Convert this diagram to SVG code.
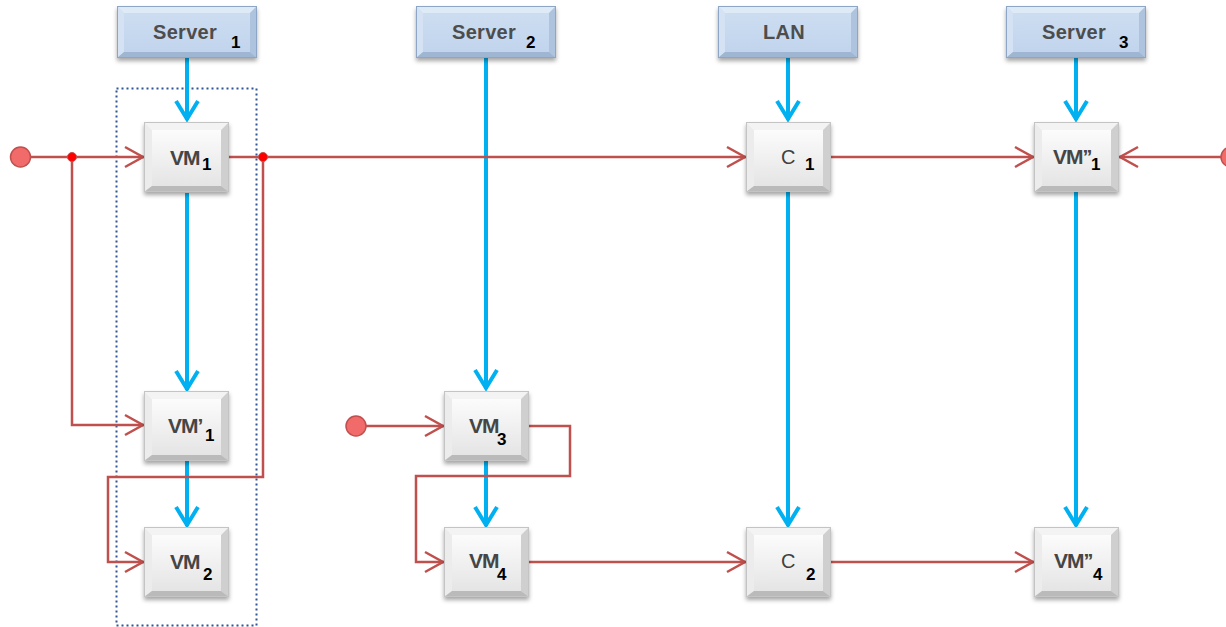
<svg xmlns="http://www.w3.org/2000/svg" xmlns:xlink="http://www.w3.org/1999/xlink" width="1226" height="627" viewBox="0 0 1226 627">
  <style>
    .lbl { font-family: "Liberation Sans", Arial, sans-serif; font-weight: bold; font-size: 21px; fill: #454545; letter-spacing: -1px; }
    .srv { font-family: "Liberation Sans", Arial, sans-serif; font-weight: bold; font-size: 20px; fill: #4d4d4d; letter-spacing: 0.3px; }
    .c { font-family: "Liberation Sans", Arial, sans-serif; font-size: 20px; fill: #404040; }
    .sub { font-family: "Liberation Sans", Arial, sans-serif; font-weight: bold; font-size: 17px; fill: #000; }
    .blue { fill: none; stroke: #00B0F0; stroke-width: 4; marker-end: url(#arrBlue); }
    .redA { fill: none; stroke: #C0504D; stroke-width: 2.5; marker-end: url(#arrRed); }
    .box { filter: url(#shadow); }
  </style>
  <defs>
    <filter id="shadow" x="-20%" y="-20%" width="140%" height="150%">
      <feDropShadow dx="0" dy="3" stdDeviation="2" flood-color="#000" flood-opacity="0.35"/>
    </filter>
    <linearGradient id="vmFace" x1="0" y1="0" x2="0" y2="1">
      <stop offset="0" stop-color="#ffffff"/>
      <stop offset="1" stop-color="#e2e2e2"/>
    </linearGradient>
    <linearGradient id="srvFace" x1="0" y1="0" x2="0" y2="1">
      <stop offset="0" stop-color="#cfdff2"/>
      <stop offset="1" stop-color="#bfd3ec"/>
    </linearGradient>
    <marker id="arrBlue" markerUnits="userSpaceOnUse" orient="auto" overflow="visible" markerWidth="1" markerHeight="1">
      <path d="M-19,-11 L-1,0 L-19,11" fill="none" stroke="#00B0F0" stroke-width="4"/>
    </marker>
    <marker id="arrRed" markerUnits="userSpaceOnUse" orient="auto" overflow="visible" markerWidth="1" markerHeight="1">
      <path d="M-19,-10 L-1,0 L-19,10" fill="none" stroke="#C0504D" stroke-width="2.5"/>
    </marker>
    <!-- bevelled blue header box, 140 x 52 -->
    <g id="srvBox">
      <rect x="0" y="0" width="140" height="52" fill="url(#srvFace)"/>
      <polygon points="0,0 140,0 133,7 7,7" fill="#dfeaf7"/>
      <polygon points="0,0 7,7 7,46 0,52" fill="#d4e2f3"/>
      <polygon points="140,0 133,7 133,46 140,52" fill="#aec3de"/>
      <polygon points="0,52 140,52 133,46 7,46" fill="#9fb6d3"/>
      <rect x="0.5" y="0.5" width="139" height="51" fill="none" stroke="#8ea6c6" stroke-width="1"/>
    </g>
    <!-- bevelled grey node box, 85 x 70 -->
    <g id="vmBox">
      <rect x="0" y="0" width="85" height="70" fill="url(#vmFace)"/>
      <polygon points="0,0 85,0 77,8 8,8" fill="#f3f3f3"/>
      <polygon points="0,0 8,8 8,64 0,70" fill="#ececec"/>
      <polygon points="85,0 77,8 77,64 85,70" fill="#cfcfcf"/>
      <polygon points="0,70 85,70 77,64 8,64" fill="#bababa"/>
      <rect x="0.5" y="0.5" width="84" height="69" fill="none" stroke="#c4c4c4" stroke-width="1"/>
    </g>
  </defs>

  <rect width="1226" height="627" fill="#ffffff"/>

  <!-- grouping frame around the first host's VMs -->
  <rect id="host1-frame" x="116.5" y="88.5" width="140" height="537" fill="none" stroke="#2F5597" stroke-width="2" stroke-dasharray="2,3"/>

  <!-- connectors -->
  <g id="connectors">
    <!-- blue: resource links -->
    <line class="blue" x1="187" y1="58" x2="187" y2="120"/>
    <line class="blue" x1="187" y1="193" x2="187" y2="390"/>
    <line class="blue" x1="187" y1="461" x2="187" y2="526"/>
    <line class="blue" x1="486" y1="58" x2="486" y2="389"/>
    <line class="blue" x1="486" y1="461" x2="486" y2="526"/>
    <line class="blue" x1="788" y1="58" x2="788" y2="120"/>
    <line class="blue" x1="788" y1="192" x2="788" y2="526"/>
    <line class="blue" x1="1076" y1="58" x2="1076" y2="120"/>
    <line class="blue" x1="1076" y1="192" x2="1076" y2="526"/>

    <!-- red: flows -->
    <line class="redA" x1="30" y1="157" x2="144" y2="157"/>
    <polyline class="redA" points="72,157 72,425 144,425"/>
    <line class="redA" x1="229" y1="157" x2="746" y2="157"/>
    <polyline class="redA" points="263,157 263,477 108,477 108,562 144,562"/>
    <line class="redA" x1="831" y1="157" x2="1034" y2="157"/>
    <line class="redA" x1="1222" y1="157" x2="1119" y2="157"/>
    <line class="redA" x1="366" y1="426" x2="444" y2="426"/>
    <polyline class="redA" points="528,426 570,426 570,476 416,476 416,562 444,562"/>
    <line class="redA" x1="528" y1="562" x2="746" y2="562"/>
    <line class="redA" x1="831" y1="562" x2="1034" y2="562"/>

    <!-- start points and junctions -->
    <circle cx="20.5" cy="157" r="10" fill="#F26B6B" stroke="#C0504D" stroke-width="1.5"/>
    <circle cx="356" cy="426" r="10" fill="#F26B6B" stroke="#C0504D" stroke-width="1.5"/>
    <circle cx="1231" cy="157" r="10" fill="#F26B6B" stroke="#C0504D" stroke-width="1.5"/>
    <circle cx="72" cy="157" r="4.5" fill="#FF0000" stroke="#C0504D" stroke-width="1"/>
    <circle cx="263" cy="157" r="4.5" fill="#FF0000" stroke="#C0504D" stroke-width="1"/>
  </g>

  <!-- header boxes -->
  <g id="server1">
    <use class="box" xlink:href="#srvBox" href="#srvBox" x="117" y="6"/>
    <text class="srv" x="153" y="39">Server</text><text class="sub" x="231" y="48">1</text>
  </g>
  <g id="server2">
    <use class="box" xlink:href="#srvBox" href="#srvBox" x="416" y="6"/>
    <text class="srv" x="452" y="39">Server</text><text class="sub" x="526" y="48">2</text>
  </g>
  <g id="lan">
    <use class="box" xlink:href="#srvBox" href="#srvBox" x="718" y="6"/>
    <text class="srv" x="763" y="39">LAN</text>
  </g>
  <g id="server3">
    <use class="box" xlink:href="#srvBox" href="#srvBox" x="1006" y="6"/>
    <text class="srv" x="1042" y="39">Server</text><text class="sub" x="1119" y="48">3</text>
  </g>

  <!-- nodes -->
  <g id="vm1">
    <use class="box" xlink:href="#vmBox" href="#vmBox" x="144" y="122"/>
    <text class="lbl" x="170" y="165">VM</text><text class="sub" x="202" y="170">1</text>
  </g>
  <g id="vm1p">
    <use class="box" xlink:href="#vmBox" href="#vmBox" x="144" y="391"/>
    <text class="lbl" x="168" y="433">VM’</text><text class="sub" x="205" y="441">1</text>
  </g>
  <g id="vm2">
    <use class="box" xlink:href="#vmBox" href="#vmBox" x="144" y="527"/>
    <text class="lbl" x="170" y="569">VM</text><text class="sub" x="203" y="580">2</text>
  </g>
  <g id="vm3">
    <use class="box" xlink:href="#vmBox" href="#vmBox" x="444" y="391"/>
    <text class="lbl" x="469" y="433">VM</text><text class="sub" x="497" y="445">3</text>
  </g>
  <g id="vm4">
    <use class="box" xlink:href="#vmBox" href="#vmBox" x="444" y="527"/>
    <text class="lbl" x="469" y="568">VM</text><text class="sub" x="497" y="580">4</text>
  </g>
  <g id="c1">
    <use class="box" xlink:href="#vmBox" href="#vmBox" x="746" y="122"/>
    <text class="c" x="781" y="164">C</text><text class="sub" x="805" y="170">1</text>
  </g>
  <g id="c2">
    <use class="box" xlink:href="#vmBox" href="#vmBox" x="746" y="527"/>
    <text class="c" x="781" y="568">C</text><text class="sub" x="806" y="580">2</text>
  </g>
  <g id="vm1pp">
    <use class="box" xlink:href="#vmBox" href="#vmBox" x="1034" y="122"/>
    <text class="lbl" x="1053" y="164">VM’’</text><text class="sub" x="1091" y="170">1</text>
  </g>
  <g id="vm4pp">
    <use class="box" xlink:href="#vmBox" href="#vmBox" x="1034" y="527"/>
    <text class="lbl" x="1054" y="568">VM’’</text><text class="sub" x="1093" y="580">4</text>
  </g>
</svg>
